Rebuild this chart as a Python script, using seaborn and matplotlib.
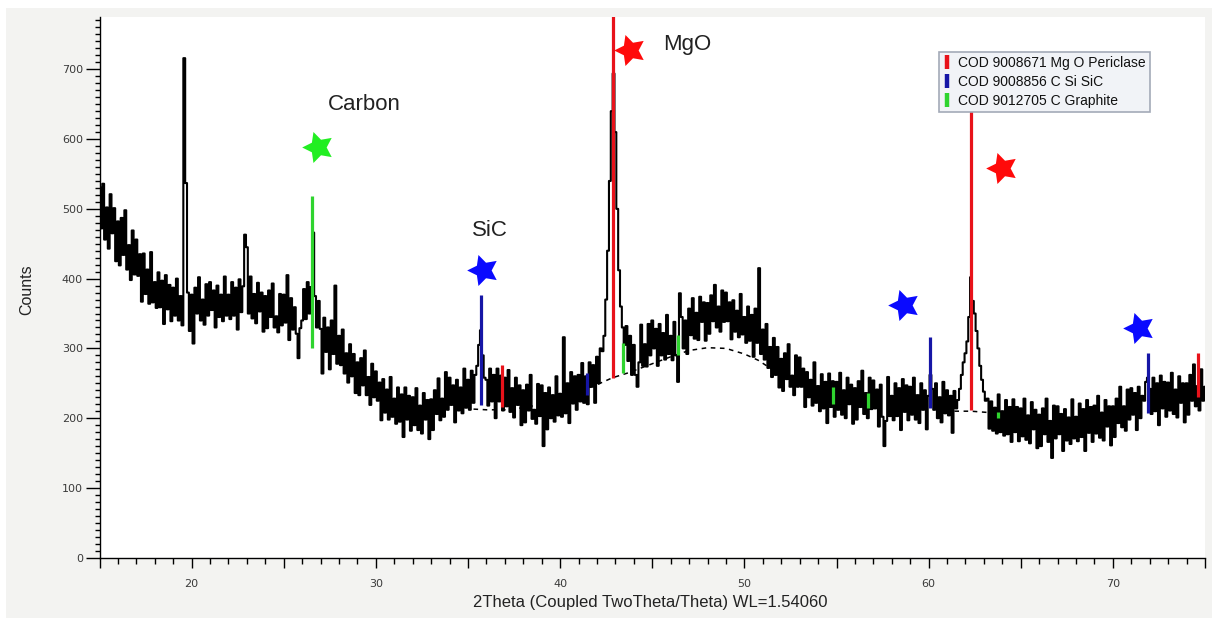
import numpy as np
import matplotlib
matplotlib.use("Agg")
import matplotlib.pyplot as plt
import seaborn as sns
from matplotlib.lines import Line2D
from matplotlib.patches import Rectangle
from matplotlib.path import Path
from matplotlib.ticker import MultipleLocator, FuncFormatter

# ---------------- data ----------------
two_theta_start = 15.0
two_theta_step = 0.1

counts_15_25 = [
    531, 472, 536, 456, 502, 443, 521, 465, 501, 425,
    482, 419, 487, 434, 498, 413, 448, 398, 469, 406,
    456, 404, 435, 367, 436, 378, 413, 364, 438, 366,
    395, 358, 409, 359, 397, 335, 405, 356, 391, 339,
    387, 347, 400, 340, 375, 333, 716, 537, 380, 325,
    377, 307, 387, 350, 402, 340, 370, 334, 392, 347,
    395, 355, 383, 330, 390, 345, 377, 339, 403, 347,
    377, 342, 395, 347, 387, 327, 399, 352, 389, 463,
    445, 350, 403, 343, 378, 336, 394, 353, 380, 324,
    375, 329, 383, 345, 393, 330, 346, 323, 378, 333,
]
counts_25_35 = [
    377, 337, 405, 312, 372, 327, 359, 321, 286, 329,
    340, 385, 342, 395, 350, 388, 466, 375, 330, 368,
    328, 264, 344, 295, 330, 270, 340, 292, 390, 278,
    318, 276, 327, 264, 293, 251, 306, 260, 292, 236,
    280, 233, 286, 247, 297, 233, 259, 219, 278, 230,
    267, 225, 251, 197, 256, 208, 241, 198, 259, 202,
    228, 192, 244, 195, 234, 173, 244, 198, 232, 182,
    230, 190, 243, 183, 218, 178, 236, 198, 226, 170,
    227, 183, 240, 206, 257, 197, 228, 202, 266, 212,
    258, 219, 247, 194, 255, 211, 244, 207, 271, 215,
]
counts_35_45 = [
    255, 212, 268, 222, 262, 275, 305, 326, 290, 258,
    255, 218, 271, 224, 262, 200, 271, 224, 261, 211,
    258, 217, 269, 209, 243, 201, 258, 219, 247, 190,
    240, 194, 248, 211, 262, 199, 212, 192, 249, 203,
    247, 160, 236, 184, 244, 200, 233, 195, 260, 204,
    235, 202, 316, 207, 250, 193, 266, 221, 260, 212,
    262, 224, 279, 222, 260, 220, 280, 245, 276, 222,
    288, 250, 300, 296, 318, 370, 440, 540, 640, 694,
    610, 500, 412, 360, 330, 305, 332, 282, 318, 262,
    305, 262, 245, 280, 334, 275, 306, 274, 335, 290,
]
counts_45_55 = [
    340, 300, 328, 275, 335, 290, 322, 284, 348, 292,
    318, 283, 338, 290, 252, 379, 345, 300, 340, 292,
    357, 319, 372, 314, 351, 312, 374, 338, 366, 311,
    365, 321, 376, 339, 391, 330, 360, 324, 383, 338,
    380, 339, 366, 313, 369, 324, 354, 316, 378, 320,
    345, 308, 360, 311, 348, 288, 357, 308, 415, 292,
    327, 284, 335, 272, 302, 259, 315, 262, 302, 244,
    285, 239, 293, 256, 306, 245, 261, 233, 290, 245,
    287, 245, 271, 216, 266, 230, 255, 218, 280, 222,
    246, 210, 263, 214, 252, 193, 264, 216, 253, 202,
]
counts_55_65 = [
    252, 212, 265, 205, 240, 200, 258, 220, 248, 192,
    243, 198, 253, 216, 268, 206, 236, 200, 258, 213,
    254, 214, 241, 188, 248, 202, 160, 196, 259, 203,
    232, 197, 250, 203, 243, 183, 256, 209, 247, 197,
    245, 205, 258, 198, 233, 193, 250, 212, 240, 184,
    232, 262, 242, 212, 250, 200, 230, 194, 252, 207,
    240, 204, 232, 179, 239, 214, 226, 242, 262, 280,
    293, 310, 345, 402, 368, 350, 325, 300, 275, 255,
    238, 225, 228, 185, 224, 182, 215, 178, 234, 180,
    210, 175, 226, 177, 216, 166, 227, 180, 216, 167,
]
counts_65_75 = [
    214, 174, 228, 169, 204, 164, 223, 184, 212, 157,
    205, 160, 214, 177, 228, 166, 196, 143, 218, 171,
    217, 177, 206, 153, 213, 168, 201, 163, 227, 171,
    202, 167, 221, 173, 213, 153, 226, 179, 216, 166,
    218, 178, 232, 172, 208, 168, 226, 188, 217, 161,
    217, 173, 228, 193, 245, 187, 217, 182, 241, 198,
    243, 205, 236, 183, 245, 200, 232, 225, 252, 258,
    242, 206, 258, 210, 250, 190, 261, 214, 252, 202,
    251, 211, 265, 206, 241, 201, 260, 222, 250, 194,
    250, 205, 262, 225, 277, 217, 246, 211, 270, 225,
    245,
]

# fitted background (dashed)
background_x = [35.3, 36, 37, 38, 39, 40, 41, 42, 42.85, 43.7, 45, 46, 47, 48, 49, 50, 50.75, 51.5]
background_y = [213, 212, 212, 215, 220, 228, 238, 248, 258, 265, 278, 288, 297, 301, 300, 292, 283, 270]
background2_x = [61.4, 62.3, 63.3]
background2_y = [210, 210, 208]

# reference patterns (stick positions, lower / upper ends)
mgo_pos = [36.85, 42.85, 62.28, 74.63]
mgo_low = [216, 258, 212, 230]
mgo_high = [276, 800, 644, 293]
sic_pos = [35.70, 41.45, 60.09, 71.90]
sic_low = [219, 233, 214, 207]
sic_high = [376, 265, 316, 293]
graphite_pos = [26.54, 43.43, 46.38, 54.83, 56.73, 63.75]
graphite_low = [301, 265, 290, 221, 214, 200]
graphite_high = [519, 308, 319, 245, 236, 209]

legend_labels = ["COD 9008671 Mg O Periclase", "COD 9008856 C Si SiC", "COD 9012705 C Graphite"]

# star annotations
star_x = [26.88, 35.84, 43.80, 63.98, 58.69, 71.42]
star_y = [589, 412, 728, 558, 362, 329]
star_colors = ["#22ee22", "#0a0aff", "#ff0a0a", "#ff0a0a", "#0a0aff", "#0a0aff"]

phase_text = ["Carbon", "SiC", "MgO"]
phase_text_x = [27.40, 35.22, 45.59]
phase_text_y = [650, 469, 736]

# ---------------- figure ----------------
counts = np.array(counts_15_25 + counts_25_35 + counts_35_45 + counts_45_55 + counts_55_65 + counts_65_75)
two_theta = two_theta_start + two_theta_step * np.arange(len(counts))

sns.set_theme(style="white")
plt.rcParams['font.family'] = ['Liberation Sans', 'DejaVu Sans']

W, H = 1212, 618
fig = plt.figure(figsize=(W / 100, H / 100), dpi=100, facecolor="white")
bg_rect = Rectangle((6 / W, 0), 1 - 6 / W, 1 - 8 / H, transform=fig.transFigure,
                    facecolor="#f3f3f1", edgecolor="none", zorder=0)
fig.patches.append(bg_rect)
ax = fig.add_axes([99.5 / W, (H - 557.7) / H, 1105.5 / W, 540.7 / H])
ax.set_zorder(2)
ax.set_facecolor("white")

ax.plot(background_x, background_y, color="black", lw=1.1, ls=(0, (3, 3)), zorder=1)
ax.plot(background2_x, background2_y, color="black", lw=1.1, ls=(0, (3, 3)), zorder=1)

sns.lineplot(x=two_theta, y=counts, color="black", lw=1.5, ax=ax, estimator=None, sort=False,
             drawstyle="steps-mid", zorder=2)

red, blue, green = "#e8121a", "#1616a6", "#2fd42f"
ax.vlines(mgo_pos, mgo_low, mgo_high, colors=red, lw=2.3, zorder=3)
ax.vlines(sic_pos, sic_low, sic_high, colors=blue, lw=2.3, zorder=3)
ax.vlines(graphite_pos, graphite_low, graphite_high, colors=green, lw=2.3, zorder=3)


def star_path(inner=0.5, rot=18):
    ang = np.deg2rad(90 + rot + np.arange(10) * 36)
    r = np.where(np.arange(10) % 2 == 0, 1.0, inner)
    verts = np.column_stack([r * np.cos(ang), r * np.sin(ang)])
    verts = np.vstack([verts, verts[:1]])
    codes = [Path.MOVETO] + [Path.LINETO] * 9 + [Path.CLOSEPOLY]
    return Path(verts, codes)


star = star_path()
for sx, sy, sc in zip(star_x, star_y, star_colors):
    ax.plot([sx], [sy], marker=star, markersize=23.5, color=sc, markeredgewidth=0, linestyle="none", zorder=4)

for t, tx, ty in zip(phase_text, phase_text_x, phase_text_y):
    ax.text(tx, ty, t, fontsize=16, color="#222222", ha="left", va="center", zorder=5)

ax.set_xlim(15, 75)
ax.set_ylim(0, 775)
ax.set_xlabel("")
ax.set_ylabel("")

for s in ["top", "right"]:
    ax.spines[s].set_visible(False)
for s in ["left", "bottom"]:
    ax.spines[s].set_color("black")
    ax.spines[s].set_linewidth(1.0)

ax.xaxis.set_major_locator(MultipleLocator(5))
ax.xaxis.set_minor_locator(MultipleLocator(1))
ax.xaxis.set_major_formatter(FuncFormatter(lambda v, p: f"{int(round(v))}" if int(round(v)) % 10 == 0 and 15 < v < 75 else ""))
ax.yaxis.set_major_locator(MultipleLocator(100))
ax.yaxis.set_minor_locator(MultipleLocator(10))
ax.tick_params(axis="x", which="major", direction="out", length=7, width=1, color="black",
               labelsize=8, labelcolor="#3a3a3a", pad=8, bottom=True)
ax.tick_params(axis="x", which="minor", direction="out", length=4, width=1, color="black", bottom=True)
ax.tick_params(axis="y", which="major", direction="out", length=10, width=1, color="black",
               labelsize=8, labelcolor="#3a3a3a", pad=2, left=True)
ax.tick_params(axis="y", which="minor", direction="out", length=3.5, width=1, color="black", left=True)
for lab in ax.get_xticklabels() + ax.get_yticklabels():
    lab.set_family("DejaVu Sans")

fig.text(27 / W, 1 - 290 / H, "Counts", rotation=90, ha="center", va="center", fontsize=11.5, color="#222222")
fig.text(650 / W, 1 - 603 / H, "2Theta (Coupled TwoTheta/Theta) WL=1.54060", ha="center", va="center",
         fontsize=12, color="#222222")

handles = [Line2D([0], [0], marker="|", linestyle="none", markersize=10, markeredgewidth=3.2, color=c)
           for c in (red, blue, green)]
leg = ax.legend(handles, legend_labels, loc="upper left", bbox_to_anchor=(0.7594, 0.9353), borderaxespad=0,
                frameon=True, fancybox=False, framealpha=1, facecolor="#f1f3f7", edgecolor="#a3aab8",
                fontsize=10, handlelength=0.6, handletextpad=0.5, borderpad=0.3, labelspacing=0.35, numpoints=1)
leg.get_frame().set_linewidth(1.2)
leg.set_zorder(6)
for txt in leg.get_texts():
    txt.set_color("#111111")

fig.savefig("out.png", dpi=100, facecolor=fig.get_facecolor())
